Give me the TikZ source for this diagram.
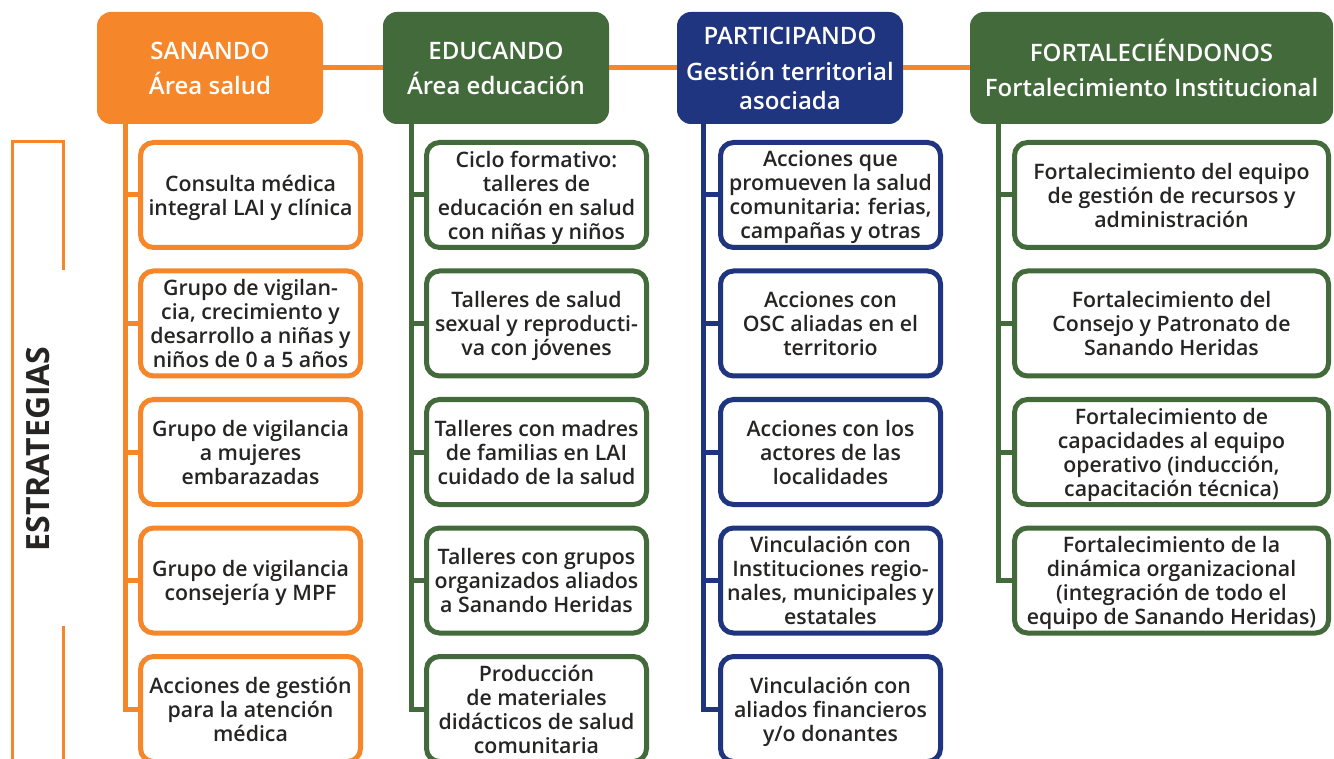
\documentclass[tikz,border=0pt]{standalone}
\usepackage{fontspec}
\IfFontExistsTF{Open Sans Semibold}
  {\setmainfont{Open Sans}[BoldFont={Open Sans Semibold}]}
  {\setmainfont{Open Sans}}
\newfontfamily\strongfont{Open Sans}
\definecolor{saOrange}{HTML}{F5862A}
\definecolor{saGreen}{HTML}{436A3B}
\definecolor{saNavy}{HTML}{1F3580}
\definecolor{saText}{HTML}{262524}
\usetikzlibrary{positioning}

\tikzset{
  head/.style={rounded corners=14pt, minimum width=226pt, minimum height=112pt, inner sep=0pt,
    align=center, text=white, font=\bfseries\fontsize{24}{29}\selectfont},
  item/.style={draw=#1, line width=5pt, rounded corners=13pt, fill=white, minimum width=220pt,
    minimum height=105pt, inner sep=0pt, align=center, text=saText, font=\bfseries\fontsize{21.3}{24}\selectfont,
    text depth=-8pt},
  trunk/.style={line width=5pt},
}

\begin{document}
\begin{tikzpicture}[x=1pt, y=-1pt]
  \useasboundingbox (0,0) rectangle (1334,759);
  \clip (0,0) rectangle (1334,759);

  % column heads
  \node[head, fill=saOrange] (san) at (210,68) {SANANDO\\[6pt]Área salud};
  \node[head, fill=saGreen] (edu) at (496,68) {EDUCANDO\\[6pt]Área educación};
  \node[head, fill=saNavy] (par) at (790,68) {PARTICIPANDO\\[7pt]Gestión territorial\\asociada};
  \node[head, fill=saGreen, minimum width=363pt] (fort) at (1151.5,68) {FORTALECIÉNDONOS\\[6pt]Fortalecimiento Institucional};
  \draw[saOrange, line width=5pt] (san.east) -- (edu.west) (edu.east) -- (par.west) (par.east) -- (fort.west);

  \coordinate (t1) at (125,0);
  \coordinate (t2) at (411,0);
  \coordinate (t3) at (703,0);
  \coordinate (t4) at (998,0);

  % salud
  \node[item=saOrange] (san1) at (250.5,195) {Consulta médica\\integral LAI y clínica};
  \node[item=saOrange] (san2) at (250.5,323.5) {Grupo de vigilan-\\cia, crecimiento y\\desarrollo a niñas y\\niños de 0 a 5 años};
  \node[item=saOrange] (san3) at (250.5,452) {Grupo de vigilancia\\a mujeres\\embarazadas};
  \node[item=saOrange] (san4) at (250.5,580.5) {Grupo de vigilancia\\consejería y MPF};
  \node[item=saOrange] (san5) at (250.5,709) {Acciones de gestión\\para la atención\\médica};
  \draw[trunk, saOrange] (san.south -| t1) |- (san5.west);
  \foreach \i in {1,...,4} \draw[trunk, saOrange] (t1 |- san\i.west) -- (san\i.west);

  % educacion
  \node[item=saGreen] (edu1) at (536.5,195) {Ciclo formativo:\\talleres de\\educación en salud\\con niñas y niños};
  \node[item=saGreen] (edu2) at (536.5,323.5) {Talleres de salud\\sexual y reproducti-\\va con jóvenes};
  \node[item=saGreen] (edu3) at (536.5,452) {Talleres con madres\\de familias en LAI\\cuidado de la salud};
  \node[item=saGreen] (edu4) at (536.5,580.5) {Talleres con grupos\\organizados aliados\\a Sanando Heridas};
  \node[item=saGreen] (edu5) at (536.5,709) {Producción\\de materiales\\didácticos de salud\\comunitaria};
  \draw[trunk, saGreen] (edu.south -| t2) |- (edu5.west);
  \foreach \i in {1,...,4} \draw[trunk, saGreen] (t2 |- edu\i.west) -- (edu\i.west);

  % gestion territorial
  \node[item=saNavy] (par1) at (830.5,195) {Acciones que\\promueven la salud\\comunitaria: ferias,\\campañas y otras};
  \node[item=saNavy] (par2) at (830.5,323.5) {Acciones con\\OSC aliadas en el\\territorio};
  \node[item=saNavy] (par3) at (830.5,452) {Acciones con los\\actores de las\\localidades};
  \node[item=saNavy] (par4) at (830.5,580.5) {Vinculación con\\Instituciones regio-\\nales, municipales y\\estatales};
  \node[item=saNavy] (par5) at (830.5,709) {Vinculación con\\aliados financieros\\y/o donantes};
  \draw[trunk, saNavy] (par.south -| t3) |- (par5.west);
  \foreach \i in {1,...,4} \draw[trunk, saNavy] (t3 |- par\i.west) -- (par\i.west);

  % institucional
  \node[item=saGreen, minimum width=314pt] (fort1) at (1171.5,195) {Fortalecimiento del equipo\\de gestión de recursos y\\administración};
  \node[item=saGreen, minimum width=314pt] (fort2) at (1171.5,323.5) {Fortalecimiento del\\Consejo y Patronato de\\Sanando Heridas};
  \node[item=saGreen, minimum width=314pt] (fort3) at (1171.5,452) {Fortalecimiento de\\capacidades al equipo\\operativo (inducción,\\capacitación técnica)};
  \node[item=saGreen, minimum width=314pt] (fort4) at (1171.5,580.5) {Fortalecimiento de la\\dinámica organizacional\\(integración de todo el\\equipo de Sanando Heridas)};
  \draw[trunk, saGreen] (fort.south -| t4) |- (fort4.west);
  \foreach \i in {1,...,3} \draw[trunk, saGreen] (t4 |- fort\i.west) -- (fort\i.west);

  % estrategias
  \draw[saOrange, line width=3pt] (63,270) |- (12,142) |- (63,766) -- (63,626);
  \node[rotate=90, text=saText, font=\strongfont\bfseries\fontsize{32}{38}\selectfont] (estr) at (38,449) {ESTRATEGIAS};
\end{tikzpicture}
\end{document}
